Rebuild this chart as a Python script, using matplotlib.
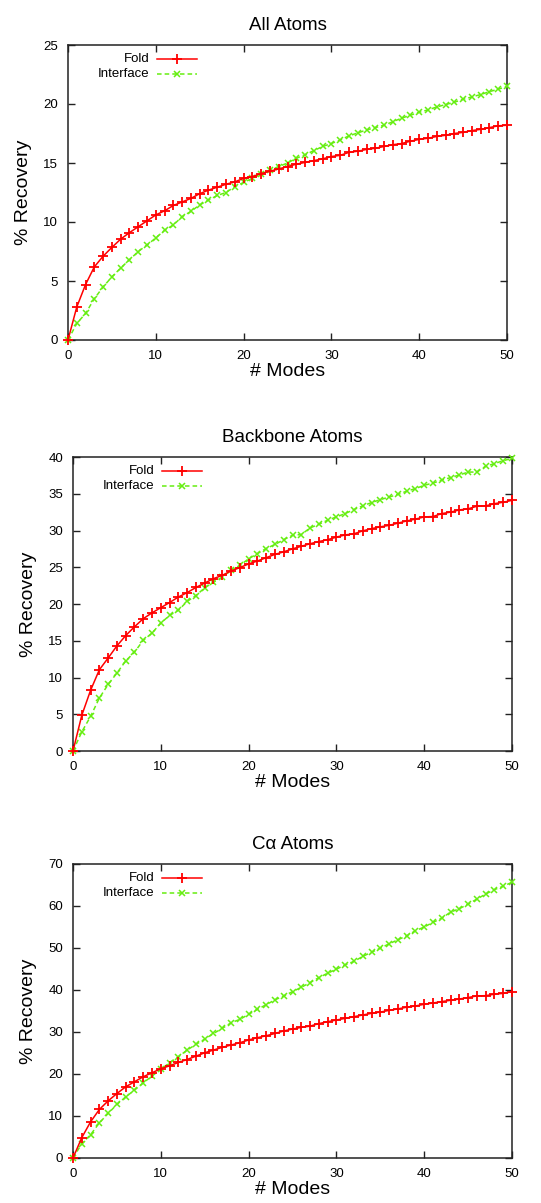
import numpy as np
import matplotlib
matplotlib.use("Agg")
import matplotlib.pyplot as plt

plt.rcParams['font.family'] = ['Liberation Sans', 'DejaVu Sans']

modes = list(range(0, 51))

# % recovery per number of modes
all_fold = [0.0, 2.8, 4.7, 6.2, 7.1, 7.85, 8.55, 9.1, 9.6, 10.1, 10.6, 10.95, 11.4, 11.7,
            12.0, 12.4, 12.7, 12.95, 13.2, 13.4, 13.7, 13.85, 14.1, 14.3, 14.5, 14.7, 14.9,
            15.05, 15.2, 15.35, 15.55, 15.65, 15.9, 16.0, 16.15, 16.25, 16.4, 16.55, 16.65,
            16.85, 17.0, 17.1, 17.25, 17.35, 17.5, 17.6, 17.75, 17.85, 18.0, 18.15, 18.2]
all_iface = [0.0, 1.4, 2.25, 3.5, 4.5, 5.35, 6.1, 6.8, 7.5, 8.05, 8.65, 9.3, 9.75, 10.45,
             10.9, 11.45, 11.85, 12.25, 12.5, 13.0, 13.35, 13.7, 14.05, 14.4, 14.7, 15.0,
             15.4, 15.7, 16.05, 16.4, 16.65, 16.95, 17.3, 17.55, 17.8, 18.0, 18.2, 18.5,
             18.8, 19.05, 19.3, 19.5, 19.75, 19.95, 20.15, 20.4, 20.6, 20.8, 21.05, 21.25, 21.5]

bb_fold = [0.0, 4.85, 8.25, 11.05, 12.65, 14.3, 15.7, 16.9, 18.0, 18.8, 19.5, 20.2, 20.95,
           21.55, 22.25, 22.85, 23.45, 23.9, 24.5, 24.95, 25.45, 25.85, 26.3, 26.75, 27.1,
           27.5, 27.85, 28.2, 28.5, 28.75, 29.1, 29.4, 29.55, 29.95, 30.25, 30.5, 30.7, 31.0,
           31.3, 31.55, 31.85, 31.9, 32.3, 32.5, 32.8, 32.95, 33.3, 33.35, 33.65, 33.85, 34.1]
bb_iface = [0.0, 2.6, 4.7, 7.2, 9.05, 10.6, 12.25, 13.45, 15.05, 16.05, 17.4, 18.45, 19.15,
            20.35, 21.15, 22.2, 22.95, 23.65, 24.6, 25.25, 26.15, 26.85, 27.55, 28.1, 28.75,
            29.35, 29.45, 30.35, 30.85, 31.4, 31.85, 32.3, 32.85, 33.35, 33.8, 34.2, 34.55,
            34.9, 35.35, 35.7, 36.15, 36.45, 36.85, 37.2, 37.55, 37.95, 37.95, 38.75, 39.1,
            39.5, 39.8]

ca_fold = [0.0, 4.85, 8.6, 11.55, 13.6, 15.35, 16.95, 18.15, 19.35, 20.3, 21.25, 21.95,
           22.75, 23.45, 24.25, 25.05, 25.7, 26.35, 26.9, 27.45, 28.1, 28.65, 29.1, 29.65,
           30.25, 30.7, 31.1, 31.4, 32.0, 32.45, 32.85, 33.25, 33.65, 34.05, 34.45, 34.75,
           35.15, 35.5, 35.9, 36.2, 36.6, 36.9, 37.25, 37.55, 37.85, 38.2, 38.6, 38.65, 39.0,
           39.2, 39.6]
ca_iface = [0.0, 3.4, 5.55, 8.35, 10.6, 12.75, 14.55, 16.15, 17.9, 19.5, 21.15, 22.65, 24.1,
            25.7, 27.05, 28.3, 29.65, 30.85, 32.2, 33.0, 34.2, 35.4, 36.5, 37.65, 38.6, 39.6,
            40.65, 41.75, 42.95, 44.0, 44.95, 46.0, 46.8, 48.0, 49.0, 49.95, 51.0, 51.95,
            52.9, 54.1, 55.0, 56.1, 57.1, 58.55, 59.35, 60.45, 61.65, 62.85, 63.9, 64.7, 65.65]

titles = ["All Atoms", "Backbone Atoms", "C\u03b1 Atoms"]
y_max = [25, 40, 70]
y_step = [5, 5, 10]
series = [(all_fold, all_iface), (bb_fold, bb_iface), (ca_fold, ca_iface)]
labels = ["Fold", "Interface"]

RED = "#ff0000"
GREEN = "#66ee11"

W, H = 541, 1203
fig = plt.figure(figsize=(W / 100, H / 100), dpi=100)

# axes boxes in pixels: left, top, right, bottom
boxes = [(68, 45, 507, 340), (73, 457, 512, 751), (73, 864, 512, 1158)]

for i, (l, t, r, b) in enumerate(boxes):
    ax = fig.add_axes([l / W, 1 - b / H, (r - l) / W, (b - t) / H])
    fold, iface = series[i]
    ax.plot(modes, fold, color=RED, lw=1.1, marker='+', ms=6.5, mew=1.3, clip_on=False, zorder=4)
    ax.plot(modes, iface, color=GREEN, lw=1.1, ls=(0, (3, 2)), marker='x', ms=4.8, mew=1.1,
            clip_on=False, zorder=3)
    ax.set_xlim(0, 50)
    ax.set_ylim(0, y_max[i])
    ax.set_xticks(np.arange(0, 51, 10))
    ax.set_yticks(np.arange(0, y_max[i] + 1, y_step[i]))
    ax.tick_params(direction='in', length=5, width=1, top=True, right=True,
                   labelsize=9.5, color='#222222')
    ax.tick_params(axis='x', pad=7)
    ax.tick_params(axis='y', pad=7)
    for s in ax.spines.values():
        s.set_linewidth(1.1)
        s.set_color('#222222')
    ax.set_title(titles[i], fontsize=13.5, pad=11)
    ax.set_xlabel("# Modes", fontsize=14, labelpad=1)
    ax.set_ylabel("% Recovery", fontsize=14, labelpad=8)

    # key: right-aligned text followed by a line sample
    fx0, fx1 = 0.203, 0.294
    for k, (lab, col, ls, mk, ms, mew) in enumerate([
            (labels[0], RED, '-', '+', 6.5, 1.3),
            (labels[1], GREEN, (0, (3, 2)), 'x', 4.8, 1.1)]):
        fy = 0.952 - k * 0.05
        ax.text(fx0 - 0.018, fy, lab, transform=ax.transAxes, ha='right', va='center',
                fontsize=9.5)
        ax.plot([fx0, (fx0 + fx1) / 2, fx1], [fy, fy, fy], transform=ax.transAxes,
                color=col, lw=1.1, ls=ls, marker=mk, ms=ms, mew=mew, markevery=[1])

fig.savefig("out.png", dpi=100)
